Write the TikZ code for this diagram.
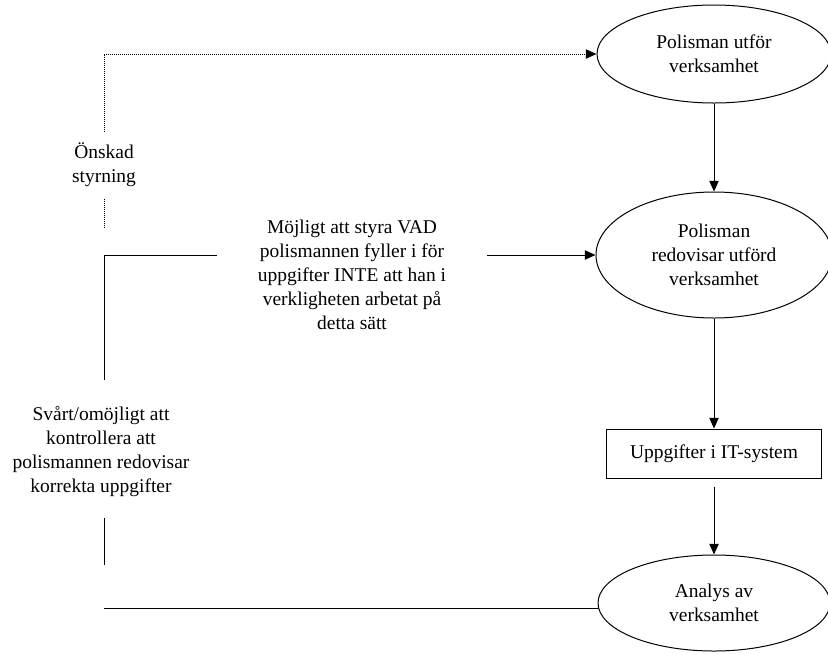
\documentclass[tikz,border=0pt]{standalone}
\usepackage{fontspec}
\setmainfont{Liberation Serif}
\usetikzlibrary{shapes.geometric,arrows.meta}
\begin{document}
\begin{tikzpicture}[x=0.75pt,y=-0.75pt,
  every node/.style={font=\fontsize{14.6}{18}\selectfont, align=center},
  flowstate/.style={ellipse, draw, line width=0.75pt, inner sep=0pt},
  store/.style={rectangle, draw, line width=0.75pt, inner sep=0pt},
  note/.style={fill=white, inner sep=0pt},
  flow/.style={line width=0.75pt, -{Triangle[length=8pt,width=7pt]}},
  plain/.style={line width=0.75pt},
  wish/.style={line width=0.75pt, dash pattern=on 0.75pt off 0.75pt,
               -{Triangle[length=8pt,width=7pt]}}
]
\useasboundingbox (0,0) rectangle (828,654);

% process chain on the right
\node[flowstate, minimum width=175.5pt, minimum height=73.5pt] (e1) at (714,54)
  {Polisman utför\\verksamhet};
\node[flowstate, minimum width=177pt, minimum height=94.5pt] (e2) at (714,255)
  {Polisman\\redovisar utförd\\verksamhet};
\node[store, minimum width=161.25pt, minimum height=36.75pt] (it) at (714,453.5)
  {Uppgifter i IT-system};
\node[flowstate, minimum width=174pt, minimum height=72pt] (e3) at (714,603)
  {Analys av\\verksamhet};

\draw[flow] (e1.south) -- (e2.north);
\draw[flow] (e2.south) -- (it.north);
\draw[flow, shorten <=6pt] (it.south) -- (e3.north);

% control loops on the left
\coordinate (wishfoot) at (104,228);
\coordinate (ctrlgap) at (104,380);
\coordinate (ctrlresume) at (104,518);
\coordinate (ctrlfoot) at (104,565);
\coordinate (anacorner) at (104,608);

\draw[wish] (wishfoot) |- (e1.west);
\draw[flow] (ctrlgap) |- (e2.west);
\draw[plain] (ctrlresume) -- (ctrlfoot);
\draw[plain] (e3.west |- anacorner) -- (anacorner);

% labels on the loop lines
\node[note, minimum height=48.75pt] (wishnote) at (104,165)
  {Önskad\\styrning};
\node[note, minimum width=202.5pt] (midnote) at (352,275)
  {Möjligt att styra VAD\\polismannen fyller i för\\uppgifter INTE att han i\\verkligheten arbetat på\\detta sätt};
\node (ctrlnote) at (101,452)
  {Svårt/omöjligt att\\kontrollera att\\polismannen redovisar\\korrekta uppgifter};
\end{tikzpicture}
\end{document}
